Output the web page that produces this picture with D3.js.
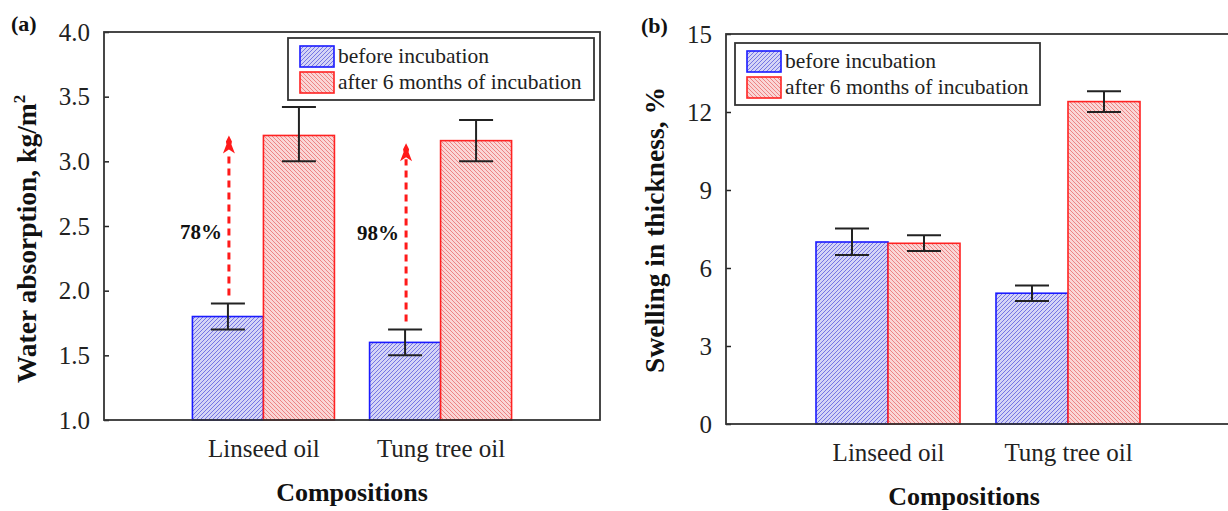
<!DOCTYPE html>
<html>
<head>
<meta charset="utf-8">
<script src="https://cdn.jsdelivr.net/npm/d3@7"></script>
<style>
  body { margin: 0; background: #fff; }
  svg, svg text { font-family: "Liberation Serif", "DejaVu Serif", serif !important; }
</style>
</head>
<body>
<svg id="chart" width="1228" height="511"></svg>
<script>
// data
let categories = ["Linseed oil", "Tung tree oil"];
let seriesNames = ["before incubation", "after 6 months of incubation"];

let waterBefore = [1.8, 1.6];
let waterBeforeLo = [1.7, 1.5];
let waterBeforeHi = [1.9, 1.7];
let waterAfter = [3.2, 3.16];
let waterAfterLo = [3.0, 3.0];
let waterAfterHi = [3.42, 3.32];
let waterTicks = [1.0, 1.5, 2.0, 2.5, 3.0, 3.5, 4.0];

let swellBefore = [7.0, 5.03];
let swellBeforeLo = [6.5, 4.73];
let swellBeforeHi = [7.52, 5.33];
let swellAfter = [6.95, 12.4];
let swellAfterLo = [6.65, 12.0];
let swellAfterHi = [7.26, 12.8];
let swellTicks = [0, 3, 6, 9, 12, 15];

// increase arrows on panel (a)
let increaseLabels = ["78%", "98%"];
let arrowTop = [3.2, 3.14];
let labelLevel = [2.40, 2.39];

let svg = d3.select('#chart');

// hatch patterns
let defs = svg.append('defs');
let hatch = (id, bg, line, dir) => {
  let p = defs.append('pattern')
    .attr('id', id)
    .attr('patternUnits', 'userSpaceOnUse')
    .attr('width', 4).attr('height', 4);
  p.append('rect').attr('width', 4).attr('height', 4).attr('fill', bg);
  let d = dir > 0
    ? 'M-1,1 L1,-1 M0,4 L4,0 M3,5 L5,3'
    : 'M-1,3 L1,5 M0,0 L4,4 M3,-1 L5,1';
  p.append('path').attr('d', d).attr('stroke', line).attr('stroke-width', 0.9);
};
hatch('hatchBlue', '#d4d4f6', '#6a6ae2', 1);
hatch('hatchRed', '#fad6d6', '#ec7a7a', -1);

let colors = [
  { fill: 'url(#hatchBlue)', stroke: '#1a1aff' },
  { fill: 'url(#hatchRed)', stroke: '#ff2222' }
];

let drawPanel = (opt) => {
  let g = svg.append('g');
  let x = d3.scalePoint().domain(categories).range([opt.left, opt.right]).padding(0.9);
  let y = d3.scaleLinear().domain(opt.domain).range([opt.bottom, opt.top]);
  let bw = opt.barWidth;

  // bars
  let series = [opt.before, opt.after];
  let lows = [opt.beforeLo, opt.afterLo];
  let highs = [opt.beforeHi, opt.afterHi];
  series.forEach((vals, s) => {
    g.selectAll('.bar' + s)
      .data(vals)
      .enter()
      .append('rect')
      .attr('x', (d, i) => x(categories[i]) + (s === 0 ? -bw : 0))
      .attr('y', d => y(d))
      .attr('width', bw)
      .attr('height', d => y(opt.domain[0]) - y(d))
      .attr('fill', colors[s].fill)
      .attr('stroke', colors[s].stroke)
      .attr('stroke-width', 1.6);
  });

  // error bars
  series.forEach((vals, s) => {
    vals.forEach((v, i) => {
      let cx = x(categories[i]) + (s === 0 ? -bw / 2 : bw / 2);
      let lo = y(lows[s][i]), hi = y(highs[s][i]);
      g.append('line').attr('x1', cx).attr('x2', cx).attr('y1', lo).attr('y2', hi)
        .attr('stroke', '#222').attr('stroke-width', 2);
      [lo, hi].forEach(yy => {
        g.append('line').attr('x1', cx - 17).attr('x2', cx + 17).attr('y1', yy).attr('y2', yy)
          .attr('stroke', '#222').attr('stroke-width', 2);
      });
    });
  });

  // y axis with inward ticks
  let yAxis = g.append('g')
    .attr('transform', `translate(${opt.left},0)`)
    .call(d3.axisLeft(y).tickValues(opt.ticks).tickFormat(opt.format)
      .tickSizeInner(-5).tickSizeOuter(0).tickPadding(14));
  yAxis.attr('font-family', null);
  yAxis.select('.domain').remove();
  yAxis.selectAll('line').attr('stroke', '#222').attr('stroke-width', 1.5);
  yAxis.selectAll('text').attr('font-size', 25).attr('fill', '#222');

  // x axis labels
  let xAxis = g.append('g')
    .attr('transform', `translate(0,${opt.bottom})`)
    .call(d3.axisBottom(x).tickSize(0).tickPadding(19));
  xAxis.attr('font-family', null);
  xAxis.select('.domain').remove();
  xAxis.selectAll('text').attr('font-size', 25).attr('fill', '#222');

  // frame
  g.append('rect')
    .attr('x', opt.left).attr('y', opt.top)
    .attr('width', opt.right - opt.left).attr('height', opt.bottom - opt.top)
    .attr('fill', 'none').attr('stroke', '#333').attr('stroke-width', 1.8);

  // axis titles
  g.append('text')
    .attr('x', (opt.left + opt.right) / 2 - opt.titleShift).attr('y', opt.bottom + 81)
    .attr('text-anchor', 'middle').attr('font-weight', 'bold').attr('font-size', 26)
    .attr('fill', '#111').text('Compositions');

  let yt = g.append('text')
    .attr('transform', `translate(${opt.yTitleX},${opt.yTitleY}) rotate(-90)`)
    .attr('text-anchor', 'middle').attr('font-weight', 'bold').attr('font-size', 27.5)
    .attr('fill', '#111');
  yt.append('tspan').text(opt.yTitle);
  if (opt.yTitleSup) {
    yt.append('tspan').attr('dy', -11).attr('font-size', 17).text(opt.yTitleSup);
  }

  g.append('text')
    .attr('x', opt.tagX).attr('y', opt.tagY)
    .attr('font-weight', 'bold').attr('font-size', 22).attr('fill', '#111')
    .text(opt.tag);

  // legend
  let lg = g.append('g').attr('transform', `translate(${opt.legX},${opt.legY})`);
  lg.append('rect').attr('width', opt.legW).attr('height', 62)
    .attr('fill', '#fff').attr('stroke', '#333').attr('stroke-width', 1.8);
  seriesNames.forEach((name, s) => {
    lg.append('rect')
      .attr('x', 12).attr('y', 8 + s * 26).attr('width', 34).attr('height', 21)
      .attr('fill', colors[s].fill).attr('stroke', colors[s].stroke).attr('stroke-width', 1.6);
    lg.append('text')
      .attr('x', 50).attr('y', 25 + s * 26)
      .attr('font-size', 21.5).attr('fill', '#222').text(name);
  });

  return { x, y, g };
};

let a = drawPanel({
  left: 104, right: 600, top: 32, bottom: 420,
  domain: [1.0, 4.0], ticks: waterTicks, format: d3.format('.1f'),
  before: waterBefore, beforeLo: waterBeforeLo, beforeHi: waterBeforeHi,
  after: waterAfter, afterLo: waterAfterLo, afterHi: waterAfterHi,
  barWidth: 71, titleShift: 0,
  yTitle: 'Water absorption, kg/m', yTitleSup: '2', yTitleX: 36, yTitleY: 239,
  tag: '(a)', tagX: 11, tagY: 31,
  legX: 288, legY: 38, legW: 306
});

let b = drawPanel({
  left: 726, right: 1230, top: 34, bottom: 424,
  domain: [0, 15], ticks: swellTicks, format: d3.format('d'),
  before: swellBefore, beforeLo: swellBeforeLo, beforeHi: swellBeforeHi,
  after: swellAfter, afterLo: swellAfterLo, afterHi: swellAfterHi,
  barWidth: 72, titleShift: 14,
  yTitle: 'Swelling in thickness, %', yTitleSup: null, yTitleX: 664, yTitleY: 230,
  tag: '(b)', tagX: 641, tagY: 33,
  legX: 735, legY: 43, legW: 305
});

// dashed increase arrows on panel (a)
categories.forEach((c, i) => {
  let ax = a.x(c) - 71 / 2 + 1;
  let y0 = a.y(waterBeforeHi[i]) - 8;
  let y1 = a.y(arrowTop[i]);
  a.g.append('line')
    .attr('x1', ax).attr('x2', ax).attr('y1', y0).attr('y2', y1 + 16)
    .attr('stroke', '#ff1a1a').attr('stroke-width', 3).attr('stroke-dasharray', '7,5');
  a.g.append('path')
    .attr('transform', `translate(${ax},${y1})`)
    .attr('d', 'M0,0 L3,6 L2.5,9 L6,18 L0,14 L-6,18 L-2.5,9 L-3,6 Z')
    .attr('fill', '#ff1a1a');
  a.g.append('text')
    .attr('x', ax - 7).attr('y', a.y(labelLevel[i]))
    .attr('text-anchor', 'end').attr('font-weight', 'bold').attr('font-size', 21)
    .attr('fill', '#111').text(increaseLabels[i]);
});
</script>
</body>
</html>
